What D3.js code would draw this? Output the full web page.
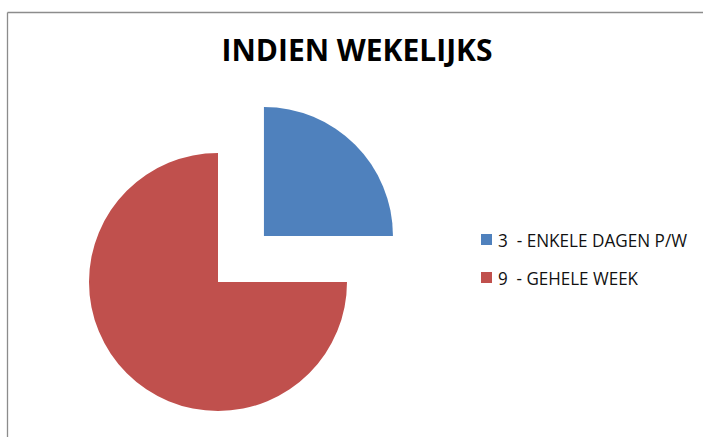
<!DOCTYPE html>
<html>
<head>
<meta charset="utf-8">
<script src="https://cdn.jsdelivr.net/npm/d3@7"></script>
<style>
  body { margin: 0; background: #fff; overflow: hidden; }
</style>
</head>
<body>
<div class="chart"></div>
<script>
// Gegevens van de taart
var dataset = [
  { label: "3  - ENKELE DAGEN P/W", value: 3, color: "#4f81bd", explode: 65 },
  { label: "9  - GEHELE WEEK", value: 9, color: "#c0504d", explode: 0 }
];

const svg = d3
  .select(".chart")
  .append("svg")
  .attr("width", 703)
  .attr("height", 437)
  .style("display", "block");

// rand van het grafiekvak (alleen boven en links zichtbaar)
svg.append("line")
  .attr("x1", 7.5).attr("y1", 12.5)
  .attr("x2", 703).attr("y2", 12.5)
  .attr("stroke", "#8c8c8c")
  .attr("stroke-width", 1.3);
svg.append("line")
  .attr("x1", 7.5).attr("y1", 12.5)
  .attr("x2", 7.5).attr("y2", 437)
  .attr("stroke", "#8c8c8c")
  .attr("stroke-width", 1.3);

svg.append("text")
  .attr("x", 357)
  .attr("y", 61)
  .attr("text-anchor", "middle")
  .attr("font-family", "Open Sans, sans-serif")
  .attr("font-weight", "bold")
  .attr("font-size", 31)
  .attr("textLength", 271)
  .attr("lengthAdjust", "spacingAndGlyphs")
  .text("INDIEN WEKELIJKS");

const pie = d3.pie().sort(null).value((d) => d.value);
const arc = d3.arc().innerRadius(0).outerRadius(129);

const g = svg.append("g").attr("transform", "translate(218,282)");

g.selectAll("path")
  .data(pie(dataset))
  .enter()
  .append("path")
  .attr("d", arc)
  .attr("fill", (d) => d.data.color)
  .attr("transform", function (d) {
    var a = (d.startAngle + d.endAngle) / 2;
    var dx = Math.sin(a) * d.data.explode;
    var dy = -Math.cos(a) * d.data.explode;
    return "translate(" + dx + "," + dy + ")";
  });

// legenda
const legend = svg.append("g").attr("class", "legend");

const items = legend
  .selectAll("g")
  .data(dataset)
  .enter()
  .append("g")
  .attr("transform", (d, i) => "translate(481," + (234 + i * 38) + ")");

items.append("rect")
  .attr("width", 11)
  .attr("height", 11)
  .attr("fill", (d) => d.color);

items.append("text")
  .attr("x", 17)
  .attr("y", 12.5)
  .attr("font-family", "Open Sans, sans-serif")
  .attr("font-size", 18)
  .attr("fill", "#111")
  .attr("textLength", (d, i) => (i == 0 ? 189 : 140))
  .attr("lengthAdjust", "spacingAndGlyphs")
  .attr("xml:space", "preserve")
  .text((d) => d.label);
</script>
</body>
</html>
